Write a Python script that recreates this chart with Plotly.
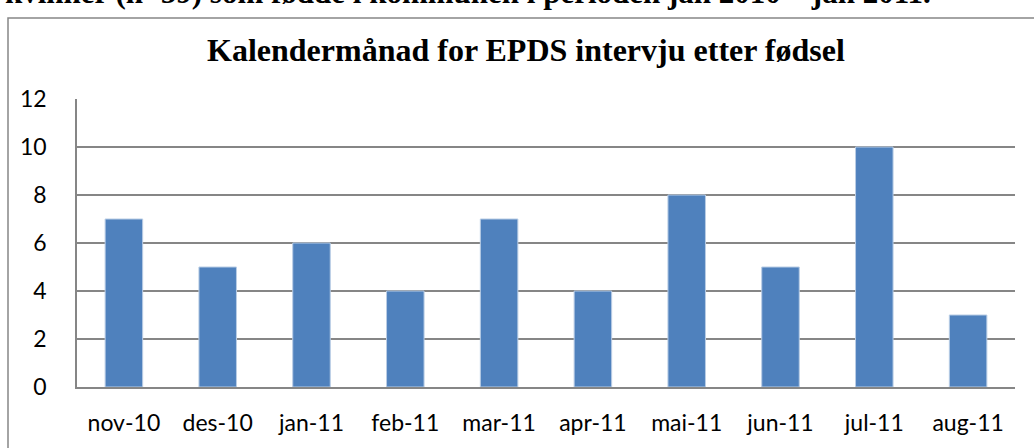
import plotly.graph_objects as go

categories = ["nov-10", "des-10", "jan-11", "feb-11", "mar-11", "apr-11", "mai-11", "jun-11", "jul-11", "aug-11"]
values = [7, 5, 6, 4, 7, 4, 8, 5, 10, 3]
y_ticks = [0, 2, 4, 6, 8, 10, 12]
title_text = "Kalendermånad for EPDS intervju etter fødsel"
top_text = "kvinner (n=59) som fødde i kommunen i perioden jan 2010 – jan 2011."

W, H = 1034, 448
L, R, T, B = 77, 19, 99, 61
pw, ph = W - L - R, H - T - B

def px_x(p):
    return (p - L) / pw

def px_y(p):
    return (H - B - p) / ph

fig = go.Figure(go.Bar(
    x=categories, y=values,
    marker=dict(color="#4F81BD", line=dict(color="#B9CDE5", width=1)),
    width=0.4,
))

fig.update_layout(
    width=W, height=H,
    margin=dict(l=L, r=R, t=T, b=B, pad=0),
    paper_bgcolor="white", plot_bgcolor="white",
    showlegend=False,
    font=dict(family="Lato, Liberation Sans, sans-serif", size=23, color="black"),
    xaxis=dict(showgrid=False, showline=True, linecolor="#868686", linewidth=1.5,
               ticks="", ticklabelstandoff=15, tickfont=dict(size=23)),
    yaxis=dict(range=[0, 12], tickvals=y_ticks, showgrid=True, gridcolor="#868686", gridwidth=1.5,
               showline=True, linecolor="#868686", linewidth=1.5, ticks="",
               ticklabelstandoff=24, zeroline=False, tickfont=dict(size=23)),
    shapes=[dict(type="rect", xref="paper", yref="paper",
                 x0=px_x(8), x1=px_x(1060), y0=px_y(470), y1=px_y(18),
                 line=dict(color="#868686", width=1.5), fillcolor="rgba(0,0,0,0)", layer="below")],
    annotations=[
        dict(text="<b>" + title_text + "</b>", xref="paper", yref="paper",
             x=px_x(526), y=px_y(50), xanchor="center", yanchor="middle", showarrow=False,
             font=dict(family="Liberation Serif, Times New Roman, serif", size=32, color="black")),
        dict(text="<b>" + top_text + "</b>", xref="paper", yref="paper",
             x=px_x(3), y=px_y(-8), xanchor="left", yanchor="middle", showarrow=False,
             font=dict(family="Liberation Serif, Times New Roman, serif", size=31, color="black")),
    ],
)

fig.write_html("out.html", config={"displayModeBar": False},
               post_script="document.body.style.margin='0';document.body.style.overflow='hidden';")
